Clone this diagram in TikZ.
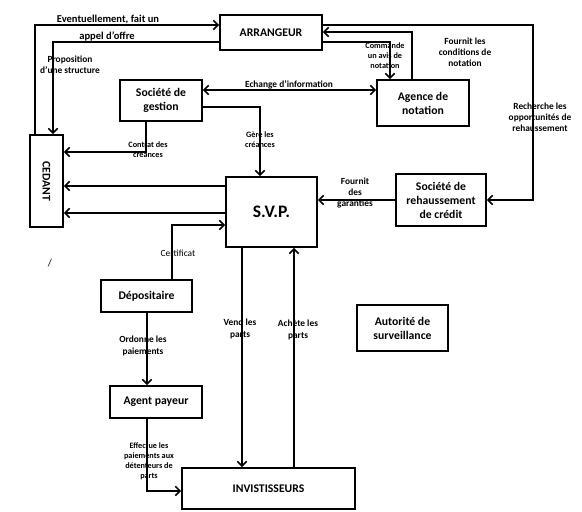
\documentclass[tikz,border=0pt]{standalone}
\usepackage{graphicx}
\usepackage{fontspec}
\setmainfont{Carlito}
\usetikzlibrary{arrows.meta}
\tikzset{
  bloc/.style={draw, line width=1.6pt, align=center, inner sep=0pt,
    font=\bfseries\fontsize{10}{12}\selectfont},
  fleche/.style={line width=1.3pt,
    -{Straight Barb[length=4pt,width=8pt,line width=1.3pt]}},
  double fleche/.style={line width=1.3pt,
    {Straight Barb[length=4pt,width=8pt,line width=1.3pt]}-{Straight Barb[length=4pt,width=8pt,line width=1.3pt]}},
  etiq/.style={align=center, inner sep=0pt,
    font=\bfseries\fontsize{8}{9.5}\selectfont},
  petite/.style={etiq, font=\bfseries\fontsize{7}{8.5}\selectfont}
}

\begin{document}
\begin{tikzpicture}[x=0.03cm,y=-0.03cm]
  \useasboundingbox (0,0) rectangle (582,512);

  % les acteurs
  \node[bloc, minimum width=3.06cm, minimum height=1.05cm] (arr) at (271,32.5) {ARRANGEUR};
  \node[bloc, minimum width=2.46cm, minimum height=1.23cm] (gest) at (161,100.5) {Société de\\gestion};
  \node[bloc, minimum width=2.76cm, minimum height=1.38cm] (agen) at (423,103) {Agence de\\notation};
  \node[bloc, minimum width=0.99cm, minimum height=2.76cm] (ced) at (46.5,181) {\rotatebox{-90}{CEDANT}};
  \node[bloc, minimum width=2.73cm, minimum height=2.10cm,
    font=\bfseries\fontsize{15}{18}\selectfont] (svp) at (271.5,212) {S.V.P.};
  \node[bloc, minimum width=2.70cm, minimum height=1.56cm] (reh) at (441,200) {Société de\\rehaussement\\de crédit};
  \node[bloc, minimum width=2.73cm, minimum height=0.96cm] (depo) at (146.5,296) {Dépositaire};
  \node[bloc, minimum width=2.76cm, minimum height=0.96cm] (agpay) at (156,402) {Agent payeur};
  \node[bloc, minimum width=5.19cm, minimum height=1.23cm] (inv) at (268.5,488.5) {INVISTISSEURS};
  \node[bloc, minimum width=2.73cm, minimum height=1.38cm] (auto) at (402.5,328) {Autorité de\\surveillance};

  % les flux
  \draw[fleche] (ced.north -| 35,0) |- (arr.west |- 0,25);
  \node[etiq, font=\bfseries\fontsize{9}{11}\selectfont] (l-event) at (108,20) {Eventuellement, fait un};
  \node[etiq, font=\bfseries\fontsize{9}{11}\selectfont] (l-appel) at (107,36) {appel d’offre};

  \draw[fleche] (arr.west |- 0,42) -| (ced.north -| 53,0);
  \node[etiq] (l-propo) at (70,65) {Proposition\\d’une structure};

  \draw[fleche] (gest.south -| 146,0) |- (ced.east |- 0,152);
  \node[petite] (l-contrat) at (148,150) {Contrat des\\creances};

  \draw[fleche] (gest.east |- 0,107) -| (svp.north -| 260,0);
  \node[petite] (l-gere) at (260,140) {Gère les\\créances};

  \draw[double fleche] (gest.east |- 0,90) -- (agen.west |- 0,90);
  \node[etiq] (l-echange) at (289,85) {Echange d’information};

  \draw[fleche] (arr.east |- 0,42) -| (agen.north -| 390,0);
  \node[petite] (l-commande) at (385,56) {Commande\\un avis de\\notation};

  \draw[fleche] (agen.north -| 412,0) |- (arr.east |- 0,32);
  \node[etiq] (l-fournit) at (465,52) {Fournit les\\conditions de\\notation};

  \draw[fleche] (arr.east |- 0,25) -| (reh.east -| 533,0) -- (reh.east);
  \node[etiq] (l-recherche) at (540,117) {Recherche les\\opportunités de\\rehaussement};

  \draw[fleche] (reh.west) -- (svp.east |- reh.west);
  \node[etiq] (l-garanties) at (355,193) {Fournit\\des\\garanties};

  \draw[fleche] (svp.west |- 0,186) -- (ced.east |- 0,186);
  \draw[fleche] (svp.west |- 0,213) -- (ced.east |- 0,213);

  \draw[fleche] (depo.north -| 172,0) |- (svp.west |- 0,225);
  \node[etiq, font=\fontsize{8}{9.5}\selectfont] (l-certif) at (178,253) {Certificat};
  \node[inner sep=0pt, font=\fontsize{9}{11}\selectfont] (trait) at (50,263) {/};

  \draw[fleche] (depo.south -| 147,0) -- (agpay.north -| 147,0);
  \node[etiq] (l-ordonne) at (143,346) {Ordonne les\\paiements};

  \draw[fleche] (agpay.south -| 147,0) |- (inv.west |- 0,491);
  \node[petite] (l-effectue) at (149,461) {Effectue les\\paiements aux\\détenteurs de\\parts};

  \draw[fleche] (svp.south -| 242,0) -- (inv.north -| 242,0);
  \node[etiq] (l-vend) at (240,329) {Vend les\\parts};

  \draw[fleche] (inv.north -| 294,0) -- (svp.south -| 294,0);
  \node[etiq] (l-achete) at (298,330) {Achète les\\parts};
\end{tikzpicture}
\end{document}
